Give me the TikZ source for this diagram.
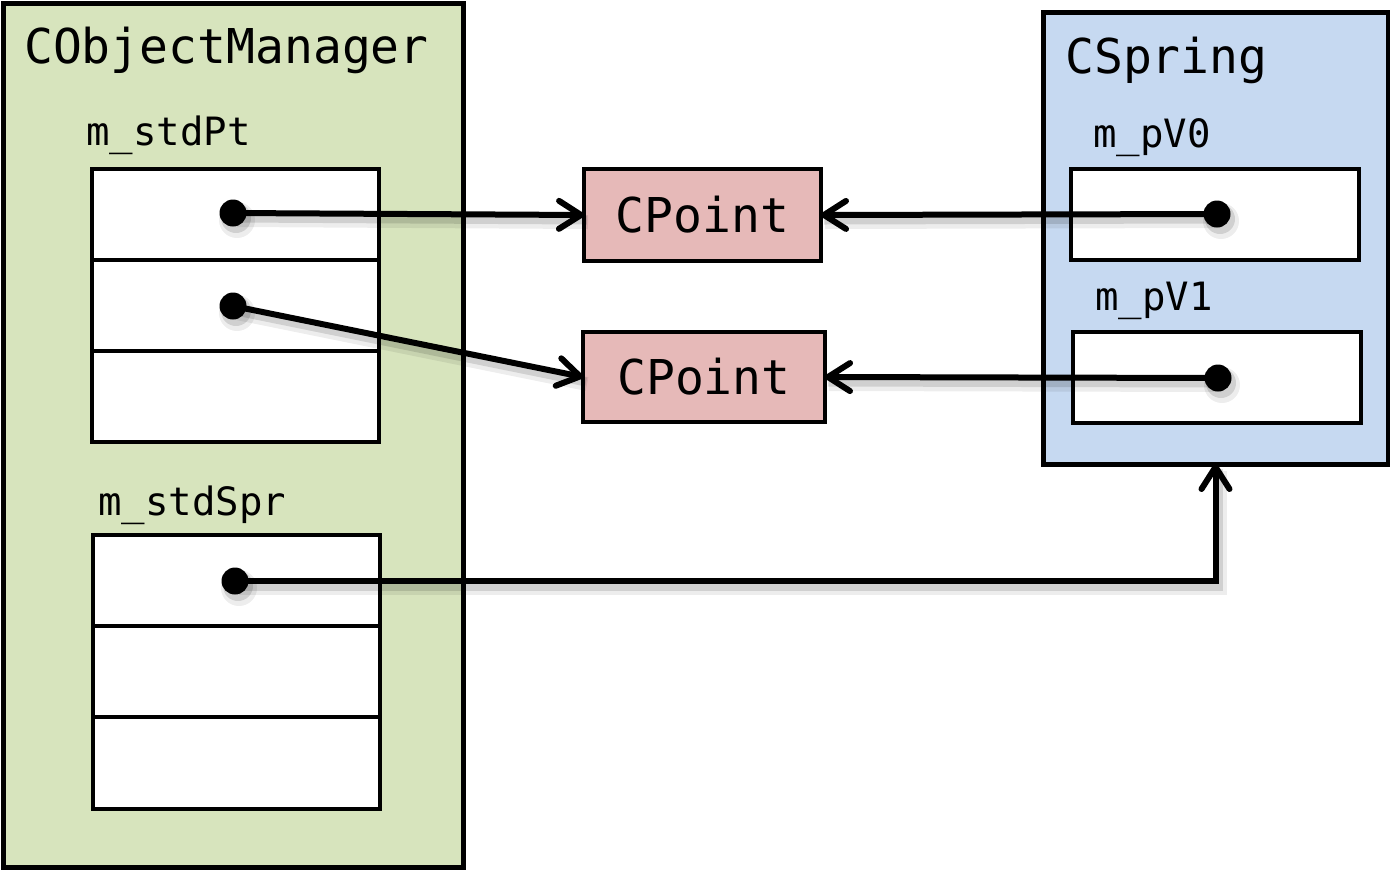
\documentclass[tikz,border=0pt]{standalone}
\usepackage{fontspec}
\newfontfamily\mono{DejaVu Sans Mono}
\usetikzlibrary{arrows.meta}
\definecolor{grn}{RGB}{215,228,189}
\definecolor{blu}{RGB}{198,217,241}
\definecolor{pnk}{RGB}{230,185,184}
\begin{document}
\begin{tikzpicture}[x=1pt,y=-1pt,
  outerbox/.style={draw, line width=5pt, inner sep=0pt, outer sep=0pt, anchor=north west},
  cell/.style={draw, line width=4.5pt, fill=white, inner sep=0pt, outer sep=0pt, anchor=north west},
  ptbox/.style={draw, line width=4.5pt, fill=pnk, inner sep=0pt, outer sep=0pt, anchor=north west,
    font=\mono\fontsize{48}{48}\selectfont},
  bigtxt/.style={anchor=base west, inner sep=0pt, font=\mono\fontsize{48}{48}\selectfont},
  smalltxt/.style={anchor=base west, inner sep=0pt, font=\mono\fontsize{39}{39}\selectfont},
  dot/.style={circle, fill=black, minimum size=27pt, inner sep=0pt},
  conn/.style={line width=6pt, -{Straight Barb[length=22pt,width=28pt,round]}},
  shad/.style={draw=black, line width=#1},
]
\useasboundingbox (0,0) rectangle (1390,871);
% container boxes
\node[outerbox, fill=grn, minimum width=460pt, minimum height=864pt] (om) at (3,3) {};
\node[outerbox, fill=blu, minimum width=345pt, minimum height=452pt] (sp) at (1043,12) {};
% titles
\node[bigtxt] (tom) at (24,63) {CObjectManager};
\node[bigtxt] (tsp) at (1065,73) {CSpring};
\node[smalltxt] (tpt) at (86,145) {m\_stdPt};
\node[smalltxt] (tspr) at (98,515) {m\_stdSpr};
\node[smalltxt] (tv0) at (1093,147) {m\_pV0};
\node[smalltxt] (tv1) at (1095,310) {m\_pV1};
% array cells
\node[cell, minimum width=287pt, minimum height=91pt] (pt1) at (92,169) {};
\node[cell, minimum width=287pt, minimum height=91pt] (pt2) at (92,260) {};
\node[cell, minimum width=287pt, minimum height=91pt] (pt3) at (92,351) {};
\node[cell, minimum width=287pt, minimum height=91pt] (sr1) at (93,535) {};
\node[cell, minimum width=287pt, minimum height=91pt] (sr2) at (93,626) {};
\node[cell, minimum width=287pt, minimum height=92pt] (sr3) at (93,717) {};
\node[cell, minimum width=288pt, minimum height=91pt] (v0) at (1071,169) {};
\node[cell, minimum width=288pt, minimum height=91pt] (v1) at (1073,332) {};
% CPoint boxes
\node[ptbox, minimum width=237pt, minimum height=92pt] (cp1) at (584,169) {CPoint};
\node[ptbox, minimum width=242pt, minimum height=90pt] (cp2) at (583,332) {CPoint};
% dot positions
\coordinate (d1) at (233,213);
\coordinate (d2) at (233,306);
\coordinate (d3) at (235,581);
\coordinate (d4) at (1217,214);
\coordinate (d5) at (1218,378);
% soft shadows
\begin{scope}[transform canvas={shift={(4,7)}}, opacity=0.07]
  \draw[shad=14pt] (d1) -- (cp1.west);
  \draw[shad=14pt] (d2) -- (cp2.west);
  \draw[shad=14pt] (d4) -- (cp1.east);
  \draw[shad=14pt] (d5) -- (cp2.east);
  \draw[shad=14pt] (d3) -| (sp.south);
  \fill (d1) circle (18); \fill (d2) circle (18); \fill (d3) circle (18);
  \fill (d4) circle (18); \fill (d5) circle (18);
\end{scope}
\begin{scope}[transform canvas={shift={(3,5)}}, opacity=0.12]
  \draw[shad=9pt] (d1) -- (cp1.west);
  \draw[shad=9pt] (d2) -- (cp2.west);
  \draw[shad=9pt] (d4) -- (cp1.east);
  \draw[shad=9pt] (d5) -- (cp2.east);
  \draw[shad=9pt] (d3) -| (sp.south);
  \fill (d1) circle (15); \fill (d2) circle (15); \fill (d3) circle (15);
  \fill (d4) circle (15); \fill (d5) circle (15);
\end{scope}
% connectors
\draw[conn] (d1) -- (cp1.west);
\draw[conn] (d2) -- (cp2.west);
\draw[conn] (d4) -- (cp1.east);
\draw[conn] (d5) -- (cp2.east);
\draw[conn] (d3) -| (sp.south);
% dots
\node[dot] (n1) at (d1) {};
\node[dot] (n2) at (d2) {};
\node[dot] (n3) at (d3) {};
\node[dot] (n4) at (d4) {};
\node[dot] (n5) at (d5) {};
\end{tikzpicture}
\end{document}
